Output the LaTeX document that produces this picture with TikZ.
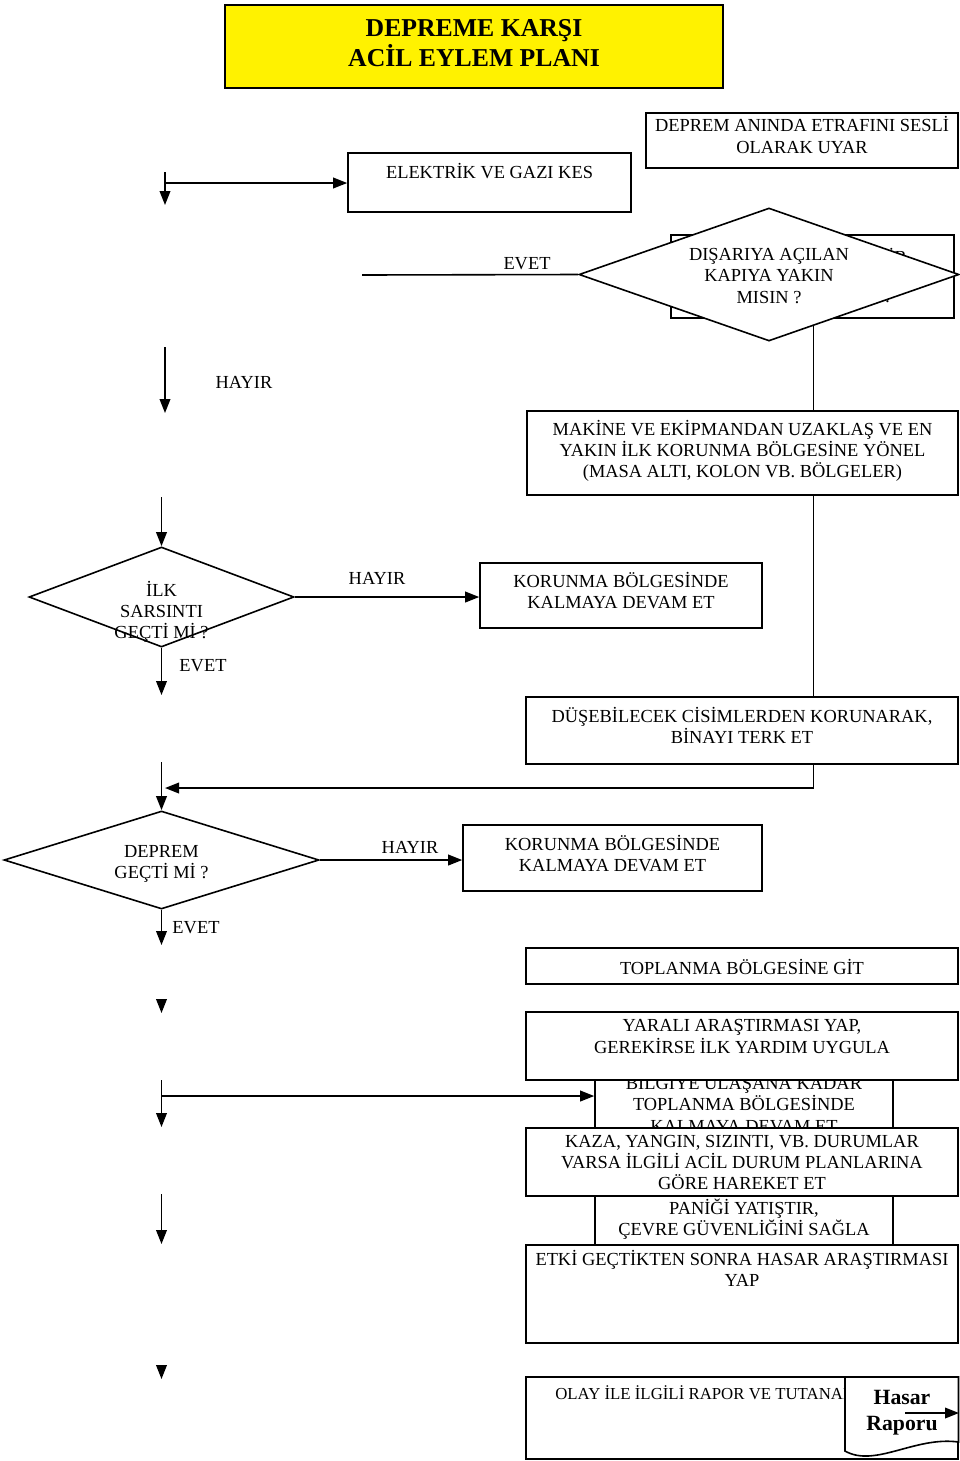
\documentclass[tikz,border=0pt]{standalone}
\usepackage{fontspec}
\setmainfont{Liberation Serif}
\usetikzlibrary{shapes.geometric,arrows.meta,calc}
\begin{document}
\begin{tikzpicture}[x=0.75pt,y=-0.75pt,
 box/.style={draw,line width=1.2pt,fill=white,inner sep=0pt,rectangle},
 dia/.style={draw,line width=1.2pt,fill=white,inner sep=0pt,diamond},
 sz/.style 2 args={minimum width=#1*0.75pt,minimum height=#2*0.75pt},
 txt/.style={font=\fontsize{13.8}{16}\selectfont,align=center,inner sep=0pt},
 lab/.style={font=\fontsize{13.8}{16}\selectfont,inner sep=0pt},
 conn/.style={line width=1.2pt},
 arr/.style={line width=1.2pt,-{Triangle[length=10.5pt,width=8pt]}}
]
\useasboundingbox (0,0) rectangle (960,1461);

% title
\node[box,fill=yellow,sz={498}{83}] (title) at (474,46.5) {};
\node[txt,font=\bfseries\fontsize{19.3}{22.5}\selectfont] (titlet) at (474,43) {DEPREME KARŞI\\ACİL EYLEM PLANI};

% top boxes
\node[box,sz={312}{55}] (warn) at (802,140.5) {};
\node[txt] (warnt) at (802,135) {DEPREM ANINDA ETRAFINI SESLİ\\OLARAK UYAR};
\node[box,sz={283}{59}] (elec) at (489.5,182.5) {};
\node[lab] (elect) at (489.5,171) {ELEKTRİK VE GAZI KES};

\coordinate (s1) at (165,172);
\coordinate (e1) at (165,205);
\coordinate (h1) at (165,183);
\draw[arr] (s1) -- (e1);
\draw[arr] (h1) -- (h1 -| elec.west);

% hidden box behind diamond
\node[box,sz={283}{83}] (hid) at (812.5,276.5) {};
\node[lab] (hidt1) at (891,256) {DİR};
\node[lab] (hidt2) at (888,297) {?};

\coordinate (evs) at (362,275);
\node[dia,sz={380}{133}] (d1) at (769,274.5) {};
\draw[conn] (evs) -- (d1.west);
\node[txt] (d1t) at (769,276) {DIŞARIYA AÇILAN\\KAPIYA YAKIN\\MISIN ?};
\node[lab] (ev1) at (527,264) {EVET};

% spine
\coordinate (sp) at ($(d1.south)!0.233!(d1.east)$);

\coordinate (s2) at (165,347);
\coordinate (e2) at (165,413);
\draw[arr] (s2) -- (e2);
\node[lab] (hy1) at (244,382) {HAYIR};

\node[box,sz={431}{84}] (make) at (742.5,453) {};
\node[txt] (maket) at (742.5,451) {MAKİNE VE EKİPMANDAN UZAKLAŞ VE EN\\YAKIN İLK KORUNMA BÖLGESİNE YÖNEL\\(MASA ALTI, KOLON VB. BÖLGELER)};
\draw[conn] (sp) -- (sp |- make.north);

% diamond 2
\node[dia,sz={265}{100}] (d2) at (161.5,597) {};
\node[txt] (d2t) at (161.5,612) {İLK\\SARSINTI\\GEÇTİ Mİ ?};
\coordinate (s3) at (161.5,497);
\draw[arr] (s3) -- (d2.north);

\node[box,sz={282}{65}] (kor1) at (621,595.5) {};
\node[txt] (kor1t) at (621,590.5) {KORUNMA BÖLGESİNDE\\KALMAYA DEVAM ET};
\draw[arr] (d2.east) -- (d2.east -| kor1.west);
\node[lab] (hy2) at (377,578) {HAYIR};

\coordinate (e3) at (161.5,695);
\draw[arr] (d2.south) -- (e3);
\node[lab] (ev2) at (203,666) {EVET};

\node[box,sz={432}{67}] (dus) at (742,730.5) {};
\node[txt] (dust) at (742,725.5) {DÜŞEBİLECEK CİSİMLERDEN KORUNARAK,\\BİNAYI TERK ET};
\draw[conn] (sp |- make.south) -- (sp |- dus.north);

% diamond 3
\node[dia,sz={315}{98}] (d3) at (161.5,860) {};
\node[txt] (d3t) at (161.5,864) {DEPREM\\GEÇTİ Mİ ?};
\coordinate (s4) at (161.5,762);
\draw[arr] (s4) -- (d3.north);
\coordinate (ret) at (165,788);
\draw[arr] (sp |- dus.south) -- (sp |- ret) -- (ret);

\node[box,sz={299}{66}] (kor2) at (612.5,858) {};
\node[txt] (kor2t) at (612.5,853.5) {KORUNMA BÖLGESİNDE\\KALMAYA DEVAM ET};
\draw[arr] (d3.east) -- (d3.east -| kor2.west);
\node[lab] (hy3) at (410,847) {HAYIR};

\coordinate (e5) at (161.5,945);
\draw[arr] (d3.south) -- (e5);
\node[lab] (ev3) at (196,928) {EVET};

% lower boxes
\node[box,sz={432}{36}] (topl) at (742,966) {};
\node[lab] (toplt) at (742,967) {TOPLANMA BÖLGESİNE GİT};
\coordinate (s6) at (161.5,1001);
\coordinate (e6) at (161.5,1013);
\draw[arr] (s6) -- (e6);

\node[box,sz={298}{48}] (bilgi) at (744,1104) {};
\node[txt] (bilgit) at (744,1103.5) {BİLGİYE ULAŞANA KADAR\\TOPLANMA BÖLGESİNDE\\KALMAYA DEVAM ET};

\node[box,sz={432}{68}] (yar) at (742,1046) {};
\node[txt] (yart) at (742,1036.5) {YARALI ARAŞTIRMASI YAP,\\GEREKİRSE İLK YARDIM UYGULA};

\coordinate (s7) at (161.5,1080);
\coordinate (e7) at (161.5,1127);
\coordinate (h7) at (161.5,1096);
\draw[arr] (s7) -- (e7);
\draw[arr] (h7) -- (h7 -| bilgi.west);

\node[box,sz={298}{49}] (pan) at (744,1220.5) {};
\node[txt] (pant) at (744,1219) {PANİĞİ YATIŞTIR,\\ÇEVRE GÜVENLİĞİNİ SAĞLA};

\node[box,sz={432}{68}] (kaza) at (742,1162) {};
\node[txt] (kazat) at (742,1162.5) {KAZA, YANGIN, SIZINTI, VB. DURUMLAR\\VARSA İLGİLİ ACİL DURUM PLANLARINA\\GÖRE HAREKET ET};

\node[box,sz={432}{98}] (etki) at (742,1294) {};
\node[txt] (etkit) at (742,1268.5) {ETKİ GEÇTİKTEN SONRA HASAR ARAŞTIRMASI\\YAP};

\coordinate (s8) at (161.5,1194);
\coordinate (e8) at (161.5,1244);
\draw[arr] (s8) -- (e8);
\coordinate (s9) at (161.5,1367);
\coordinate (e9) at (161.5,1379);
\draw[arr] (s9) -- (e9);

\node[box,sz={432}{82}] (olay) at (742,1418) {};
\node[lab,anchor=west,font=\fontsize{12.6}{15}\selectfont] (olayt) at (555,1393) {OLAY İLE İLGİLİ RAPOR VE TUTANAK};

% document shape
\draw[line width=1.2pt,fill=white] (845,1377) -- (958.5,1377) -- (958.5,1442)
  .. controls (915,1436) and (875,1468) .. (845,1451) -- cycle;
\node[lab,anchor=base,font=\bfseries\fontsize{16.3}{18.75}\selectfont] (hasar1) at (902,1404) {Hasar};
\node[lab,anchor=base,font=\bfseries\fontsize{16.3}{18.75}\selectfont] (hasar2) at (902,1430) {Raporu};
\coordinate (ha1) at (905,1413);
\coordinate (ha2) at (959,1413);
\draw[arr] (ha1) -- (ha2);
\end{tikzpicture}
\end{document}
